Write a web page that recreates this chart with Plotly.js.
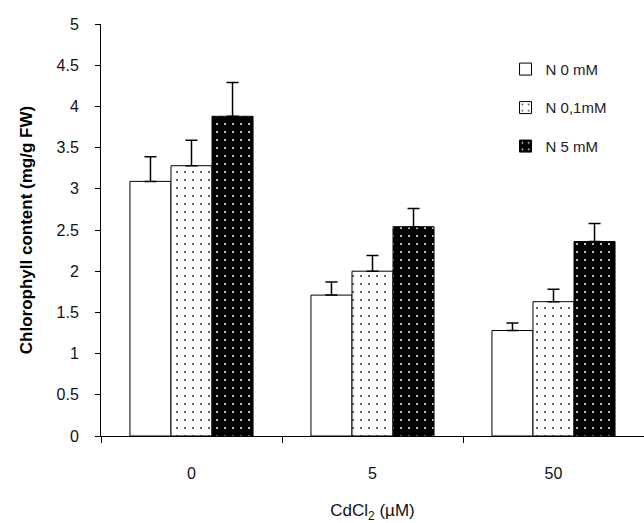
<!DOCTYPE html>
<html>
<head>
<meta charset="utf-8">
<script src="https://cdn.plot.ly/plotly-3.0.1.min.js"></script>
<style>html,body{margin:0;padding:0;background:#fff;}#chart{width:644px;height:523px;}</style>
</head>
<body>
<div id="chart"></div>
<script>
var categories = ["0", "5", "50"];
var seriesNames = ["N 0 mM", "N 0,1mM", "N 5 mM"];
var n0 = [3.09, 1.71, 1.28];
var n0err = [0.30, 0.16, 0.09];
var n01 = [3.28, 2.00, 1.63];
var n01err = [0.31, 0.19, 0.15];
var n5 = [3.88, 2.54, 2.36];
var n5err = [0.41, 0.22, 0.22];
var yTicks = [0, 0.5, 1, 1.5, 2, 2.5, 3, 3.5, 4, 4.5, 5];

function err(a) {
  return {type: 'data', symmetric: false, array: a, arrayminus: a.map(function(){return 0;}),
          color: '#000', thickness: 1.5, width: 6};
}
var line = {color: '#000', width: 1};
var FAM = 'Liberation Sans, Arial, sans-serif';
var traces = [
  {type: 'bar', name: seriesNames[0], x: categories, y: n0, error_y: err(n0err), legendgroup: 'a',
   marker: {color: '#fff', line: line}},
  {type: 'bar', name: seriesNames[1], x: categories, y: n01, error_y: err(n01err), legendgroup: 'b',
   marker: {color: '#fff', line: line, pattern: {shape: '.', bgcolor: '#fff', fgcolor: '#333', size: 8, solidity: 0.05}}},
  {type: 'bar', name: seriesNames[2], x: categories, y: n5, error_y: err(n5err), legendgroup: 'c',
   marker: {color: '#000', line: line, pattern: {shape: '.', bgcolor: '#000', fgcolor: '#fff', size: 8, solidity: 0.05}}}
];
var font = {family: FAM, size: 16, color: '#111'};
var layout = {
  width: 644, height: 523,
  margin: {l: 101, r: 0, t: 24, b: 87},
  paper_bgcolor: '#fff', plot_bgcolor: '#fff',
  font: font,
  showlegend: true,
  barmode: 'group', bargap: 0.32, bargroupgap: 0,
  legend: {x: 0.745, y: 0.93, xanchor: 'left', yanchor: 'top', traceorder: 'grouped', tracegroupgap: 16,
           font: {family: FAM, size: 15, color: '#222'},
           itemwidth: 30, bgcolor: 'rgba(0,0,0,0)'},
  xaxis: {type: 'category', showline: true, linecolor: '#000', linewidth: 1, ticks: 'outside', ticklen: 6,
          tickcolor: '#000', tickson: 'boundaries', showgrid: false, zeroline: false,
          title: {text: 'CdCl<sub>2</sub> (µM)', font: {family: FAM, size: 17, color: '#111'}, standoff: 24},
          tickfont: font, ticklabelstandoff: 23},
  yaxis: {range: [0, 5], tickvals: yTicks, ticktext: yTicks.map(String), showline: true, linecolor: '#000', linewidth: 1,
          ticks: 'outside', ticklen: 5, tickcolor: '#000', showgrid: false, zeroline: false,
          title: {text: '<b>Chlorophyll content (mg/g FW)</b>', font: {family: FAM, size: 17, color: '#000'}, standoff: 19},
          tickfont: font, ticklabelstandoff: 13}
};
Plotly.newPlot('chart', traces, layout, {displayModeBar: false, staticPlot: true});
</script>
</body>
</html>
